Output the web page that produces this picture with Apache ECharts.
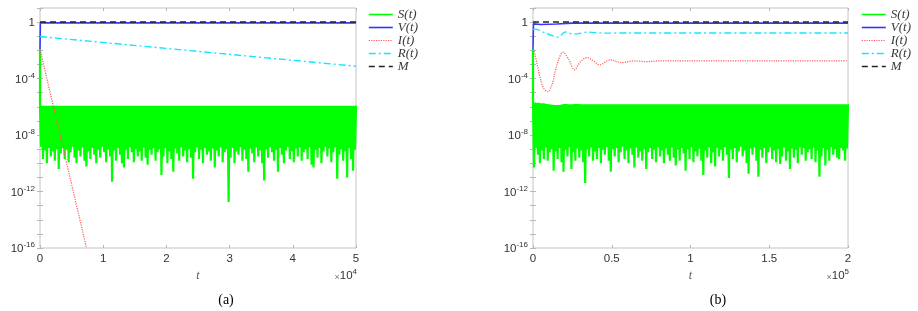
<!DOCTYPE html>
<html><head><meta charset="utf-8">
<script src="https://cdn.jsdelivr.net/npm/echarts@6/dist/echarts.min.js"></script>
<style>html,body{margin:0;padding:0;background:#fff}#c{width:918px;height:311px}</style>
</head><body><div id="c"></div>
<script>
// ---------- data ----------
const seriesNames = ['S(t)', 'V(t)', 'I(t)', 'R(t)', 'M'];
const xTicksA = [0, 1, 2, 3, 4, 5];          // ×10^4
const xTicksB = [0, 0.5, 1, 1.5, 2];         // ×10^5
const yTickExponents = [-16, -12, -8, -4, 0];
const tMaxA = 50000, tMaxB = 200000;

// Panel (a)
const sStartA = 0.012;
const sHighA = 1.2e-6;
const sLowA = [
  1.5e-9, 2e-10, 8e-10, 1e-10, 1.2e-9, 3e-10, 7e-10, 1.5e-10, 1.0e-9, 4e-11,
  5e-10, 1.2e-9, 2e-10, 9e-10, 1.2e-10, 6e-10, 1.5e-9, 2.5e-10, 1e-10, 8e-10,
  3e-10, 1.3e-9, 1.5e-10, 6e-11, 7e-10, 2e-10, 1.2e-9, 4e-10, 1e-10, 9e-10,
  2.5e-10, 1.5e-9, 6e-10, 1.2e-10, 1e-9, 3e-10, 5e-12, 8e-10, 1.5e-10, 1.2e-9,
  4e-10, 1e-10, 5e-11, 9e-10, 2e-10, 1.4e-9, 6e-10, 1.2e-10, 1e-9, 3e-10,
  7e-10, 1.5e-10, 1.3e-9, 2.5e-10, 8e-11, 9e-10, 4e-10, 1.2e-9, 1.5e-10, 6e-10,
  1e-9, 1.5e-11, 3e-10, 1.2e-9, 1e-10, 7e-10, 2e-10, 2.5e-11, 1.1e-9, 5e-10,
  1.5e-10, 1.3e-9, 3e-10, 8e-10, 1.2e-10, 1e-9, 2.5e-10, 8e-12, 6e-10, 1.4e-9,
  2e-10, 9e-10, 1e-10, 1.2e-9, 4e-10, 7e-10, 1.5e-10, 1.1e-9, 5e-11, 8e-10,
  3e-10, 1.3e-9, 1.2e-10, 6e-10, 1e-9, 1.8e-13, 2.5e-10, 1.2e-9, 1e-10, 7e-10,
  4e-10, 1.4e-9, 1.5e-10, 9e-10, 2e-10, 2.5e-11, 1.1e-9, 5e-10, 1.2e-10, 1.3e-9,
  3e-10, 8e-10, 1e-10, 6e-12, 1e-9, 2.5e-10, 1.4e-9, 6e-10, 1.5e-10, 9e-10,
  2.5e-11, 1.2e-9, 4e-10, 1e-10, 8e-10, 1.5e-9, 2e-10, 7e-10, 1.2e-10, 1.1e-9,
  3e-10, 1.3e-9, 1.5e-10, 6e-10, 1e-9, 2e-10, 1.4e-9, 8e-11, 5e-11, 9e-10,
  2.5e-10, 1.2e-9, 1e-10, 7e-10, 1.5e-9, 3e-10, 1.1e-9, 1.2e-10, 6e-10, 1.3e-9,
  8e-12, 4e-10, 1e-9, 1.5e-10, 7e-10, 1e-11, 1.2e-9, 2e-10, 3e-11, 9e-10
];
const vA = [[0, 0.012], [60, 0.88], [50000, 0.88]];
const iA = [[0, 0.012], [7360, 1e-16]];
const rA = [[0, 0.095], [50000, 7.5e-4]];
const mA = [[0, 1], [50000, 1]];

// Panel (b)
const sStartB = 0.012;
const sHighBStart = [2.1e-6, 2e-6, 1.9e-6, 1.9e-6, 1.8e-6, 1.8e-6, 1.7e-6, 1.6e-6, 1.5e-6, 1.45e-6,
  1.4e-6, 1.35e-6, 1.35e-6, 1.35e-6, 1.4e-6, 1.5e-6, 1.55e-6, 1.6e-6, 1.5e-6, 1.5e-6,
  1.5e-6, 1.55e-6, 1.6e-6, 1.6e-6];
const sHighB = 1.5e-6;
const sLowB = [
  5e-11, 1.2e-9, 4e-10, 1e-10, 8e-10, 2e-10, 1.3e-9, 1.5e-10, 6e-10, 1e-9,
  3e-11, 7e-10, 2e-10, 1.2e-9, 1.2e-10, 2.5e-11, 9e-10, 3e-10, 1.4e-9, 4e-11,
  6e-10, 1.5e-10, 1.1e-9, 2.5e-10, 8e-10, 1.2e-10, 4e-12, 1e-9, 3e-10, 1.3e-9,
  1.5e-10, 7e-10, 2e-10, 1.2e-9, 1e-10, 9e-10, 4e-10, 1.4e-9, 1.5e-10, 2.5e-11,
  1e-9, 3e-10, 1.2e-9, 1.2e-10, 6e-10, 1.5e-9, 2e-10, 8e-10, 1e-10, 1.1e-9,
  4e-10, 5e-11, 1.3e-9, 2.5e-10, 7e-10, 1.5e-10, 1e-9, 4e-11, 6e-10, 1.2e-9,
  2e-10, 9e-10, 1.2e-10, 1.4e-9, 3e-10, 8e-10, 1e-10, 1.1e-9, 4e-10, 1.5e-10,
  1.3e-9, 2.5e-10, 7e-11, 9e-10, 1.5e-10, 1.2e-9, 5e-10, 3e-11, 1e-9, 2e-10,
  1.4e-9, 1.2e-10, 7e-10, 3e-10, 1.1e-9, 1.5e-10, 1.5e-11, 8e-10, 2.5e-10, 1.3e-9,
  1e-10, 6e-10, 6e-11, 1.2e-9, 3e-10, 9e-10, 1.5e-10, 1.4e-9, 4e-10, 9e-12,
  1e-9, 2e-10, 1.2e-9, 1.2e-10, 7e-10, 1.5e-9, 3e-10, 8e-10, 1e-10, 1.8e-11,
  1.1e-9, 4e-10, 1.3e-9, 1.5e-10, 1.1e-11, 9e-10, 2.5e-10, 1.2e-9, 1e-10, 6e-10,
  1.4e-9, 2e-10, 8e-10, 1.2e-10, 1e-9, 9e-11, 3e-10, 1.3e-9, 1.5e-10, 7e-10,
  4e-11, 1.1e-9, 2.5e-10, 9e-10, 1e-10, 1.4e-9, 4e-10, 1.2e-9, 1.5e-10, 6e-10,
  1e-9, 2e-10, 1.3e-9, 1.2e-10, 8e-10, 1.1e-11, 3e-10, 1.2e-9, 7e-11, 9e-10,
  1.5e-10, 1.4e-9, 4e-10, 1e-9, 2.5e-10, 2e-10, 1.2e-9, 8e-10, 1.5e-10, 1.1e-9
];
const vB = [[0, 0.012], [300, 0.75], [5000, 0.68], [15000, 0.74], [25000, 0.85], [200000, 0.85]];
const iB = [[0, 0.019], [2500, 1.2e-3], [4600, 1.1e-4], [6700, 2.1e-5], [9400, 1.2e-5], [12000, 3.5e-5],
  [14100, 3.2e-4], [16200, 2.1e-3], [19000, 7.4e-3], [22500, 2.5e-3], [26400, 4.2e-4], [30000, 1.5e-3],
  [34200, 3.1e-3], [38000, 1.9e-3], [42200, 9.4e-4], [49000, 2.1e-3], [56400, 1.35e-3], [63800, 1.8e-3],
  [72000, 1.6e-3], [80000, 1.8e-3], [200000, 1.8e-3]];
const rB = [[0, 0.3], [1000, 0.32], [8000, 0.166], [16000, 0.087], [20500, 0.2], [25700, 0.14],
  [35200, 0.195], [45000, 0.165], [60000, 0.17], [200000, 0.17]];
const mB = [[0, 1], [200000, 1]];

// ---------- build ----------
function zigzag(tMax, start, highAt, lows) {
  const n = lows.length, step = tMax / n;
  const pts = [[0, start]];
  for (let i = 0; i < n; i++) {
    pts.push([i * step, highAt(i)]);
    pts.push([(i + 0.5) * step, lows[i]]);
  }
  pts.push([tMax, highAt(n - 1)]);
  return pts;
}
const sA = zigzag(tMaxA, sStartA, () => sHighA, sLowA);
const sB = zigzag(tMaxB, sStartB, i => (i < sHighBStart.length ? sHighBStart[i] : sHighB), sLowB);

const tickColor = '#b8b8b8';
const labelColor = '#333';
const labelFont = 'Liberation Sans';
const supRich = {
  b: { fontSize: 11.5, fontFamily: labelFont, color: labelColor, lineHeight: 14, verticalAlign: 'bottom' },
  s: { fontSize: 8, fontFamily: labelFont, color: labelColor, lineHeight: 14, verticalAlign: 'top' }
};

function yAxis(grid, pos, labels) {
  return {
    type: 'log', logBase: 10, gridIndex: grid, position: pos,
    min: 1e-16, max: 10, interval: 1,
    axisLine: { show: false }, splitLine: { show: false },
    axisTick: { show: true, inside: true, length: 3, interval: 0, lineStyle: { color: tickColor } },
    axisLabel: {
      show: labels, interval: 0, margin: 5, color: labelColor, fontFamily: labelFont, fontSize: 11.5,
      formatter: function (v) {
        const e = Math.round(Math.log10(v));
        if (!yTickExponents.includes(e)) return '';
        if (e === 0) return '{b|1}';
        return '{b|10}{s|' + e + '}';
      },
      rich: supRich
    }
  };
}

function xAxis(grid, pos, tMax, ticks, labels) {
  const iv = tMax / (ticks.length - 1);
  return {
    type: 'value', gridIndex: grid, position: pos, min: 0, max: tMax, interval: iv,
    axisLine: { show: false }, splitLine: { show: false },
    axisTick: { show: true, inside: true, length: 3, lineStyle: { color: tickColor } },
    axisLabel: {
      show: labels, margin: 5, color: labelColor, fontFamily: labelFont, fontSize: 11.5,
      showMinLabel: true, showMaxLabel: true,
      formatter: v => String(ticks[Math.round(v / iv)])
    },
    name: labels ? 't' : '', nameLocation: 'middle', nameGap: 19,
    nameTextStyle: { fontFamily: 'Liberation Serif', fontStyle: 'italic', fontSize: 12, color: '#555' }
  };
}

const styles = {
  'S(t)': { color: '#00ff00', width: 2.2, type: 'solid' },
  'V(t)': { color: '#3535ff', width: 1.6, type: 'solid' },
  'I(t)': { color: '#ff5a5a', width: 1.2, type: 'dotted' },
  'R(t)': { color: '#10e8ff', width: 1.4, type: [7, 3, 2, 3] },
  'M':    { color: '#222222', width: 1.5, type: [6, 4] }
};
function line(name, data, xi, yi, smooth) {
  return {
    name, type: 'line', data, xAxisIndex: xi, yAxisIndex: yi, symbol: 'none', showSymbol: false,
    smooth: smooth || false, animation: false, silent: true,
    lineStyle: { color: styles[name].color, width: styles[name].width, type: styles[name].type, miterLimit: 2 },
    itemStyle: { color: styles[name].color }
  };
}

function legend(left) {
  return {
    orient: 'vertical', left, top: 8, selectedMode: false,
    data: seriesNames.map(n => ({ name: n, itemStyle: { opacity: 0 },
      lineStyle: { width: n === 'S(t)' ? 1.6 : styles[n].width } })),
    itemWidth: 24, itemHeight: 10, itemGap: 0, padding: 0,
    itemStyle: { opacity: 0 },
    textStyle: { fontFamily: 'Liberation Serif', fontStyle: 'italic', fontSize: 13, color: '#3a3a3a' }
  };
}

const chart = echarts.init(document.getElementById('c'), null, { renderer: 'canvas' });
chart.setOption({
  animation: false,
  backgroundColor: '#fff',
  grid: [
    { left: 40, top: 8, width: 316, height: 240, show: true, borderColor: '#c4c4c4', borderWidth: 1 },
    { left: 533, top: 8, width: 315, height: 240, show: true, borderColor: '#c4c4c4', borderWidth: 1 }
  ],
  xAxis: [
    xAxis(0, 'bottom', tMaxA, xTicksA, true),
    xAxis(1, 'bottom', tMaxB, xTicksB, true),
    xAxis(0, 'top', tMaxA, xTicksA, false),
    xAxis(1, 'top', tMaxB, xTicksB, false)
  ],
  yAxis: [yAxis(0, 'left', true), yAxis(1, 'left', true), yAxis(0, 'right', false), yAxis(1, 'right', false)],
  legend: [legend(368), legend(861)],
  series: [
    line('S(t)', sA, 0, 0), line('V(t)', vA, 0, 0), line('I(t)', iA, 0, 0), line('R(t)', rA, 0, 0), line('M', mA, 0, 0),
    line('S(t)', sB, 1, 1), line('V(t)', vB, 1, 1), line('I(t)', iB, 1, 1, 0.35), line('R(t)', rB, 1, 1, 0.3), line('M', mB, 1, 1)
  ],
  graphic: [
    { type: 'text', x: 357, y: 275, style: { text: '{x|×}{b|10}{s|4}', align: 'right', verticalAlign: 'middle',
      rich: { x: { fontSize: 9, fill: '#777', fontFamily: labelFont, lineHeight: 14, verticalAlign: 'bottom' },
              b: { fontSize: 11.5, fill: labelColor, fontFamily: labelFont, lineHeight: 14, verticalAlign: 'bottom' },
              s: { fontSize: 8, fill: labelColor, fontFamily: labelFont, lineHeight: 14, verticalAlign: 'top' } } } },
    { type: 'text', x: 849, y: 275, style: { text: '{x|×}{b|10}{s|5}', align: 'right', verticalAlign: 'middle',
      rich: { x: { fontSize: 9, fill: '#777', fontFamily: labelFont, lineHeight: 14, verticalAlign: 'bottom' },
              b: { fontSize: 11.5, fill: labelColor, fontFamily: labelFont, lineHeight: 14, verticalAlign: 'bottom' },
              s: { fontSize: 8, fill: labelColor, fontFamily: labelFont, lineHeight: 14, verticalAlign: 'top' } } } },
    { type: 'text', x: 226, y: 300, style: { text: '(a)', fontSize: 14, fontFamily: 'Liberation Serif', fill: '#000', align: 'center', verticalAlign: 'middle' } },
    { type: 'text', x: 718, y: 300, style: { text: '(b)', fontSize: 14, fontFamily: 'Liberation Serif', fill: '#000', align: 'center', verticalAlign: 'middle' } }
  ]
});
</script>
</body></html>
